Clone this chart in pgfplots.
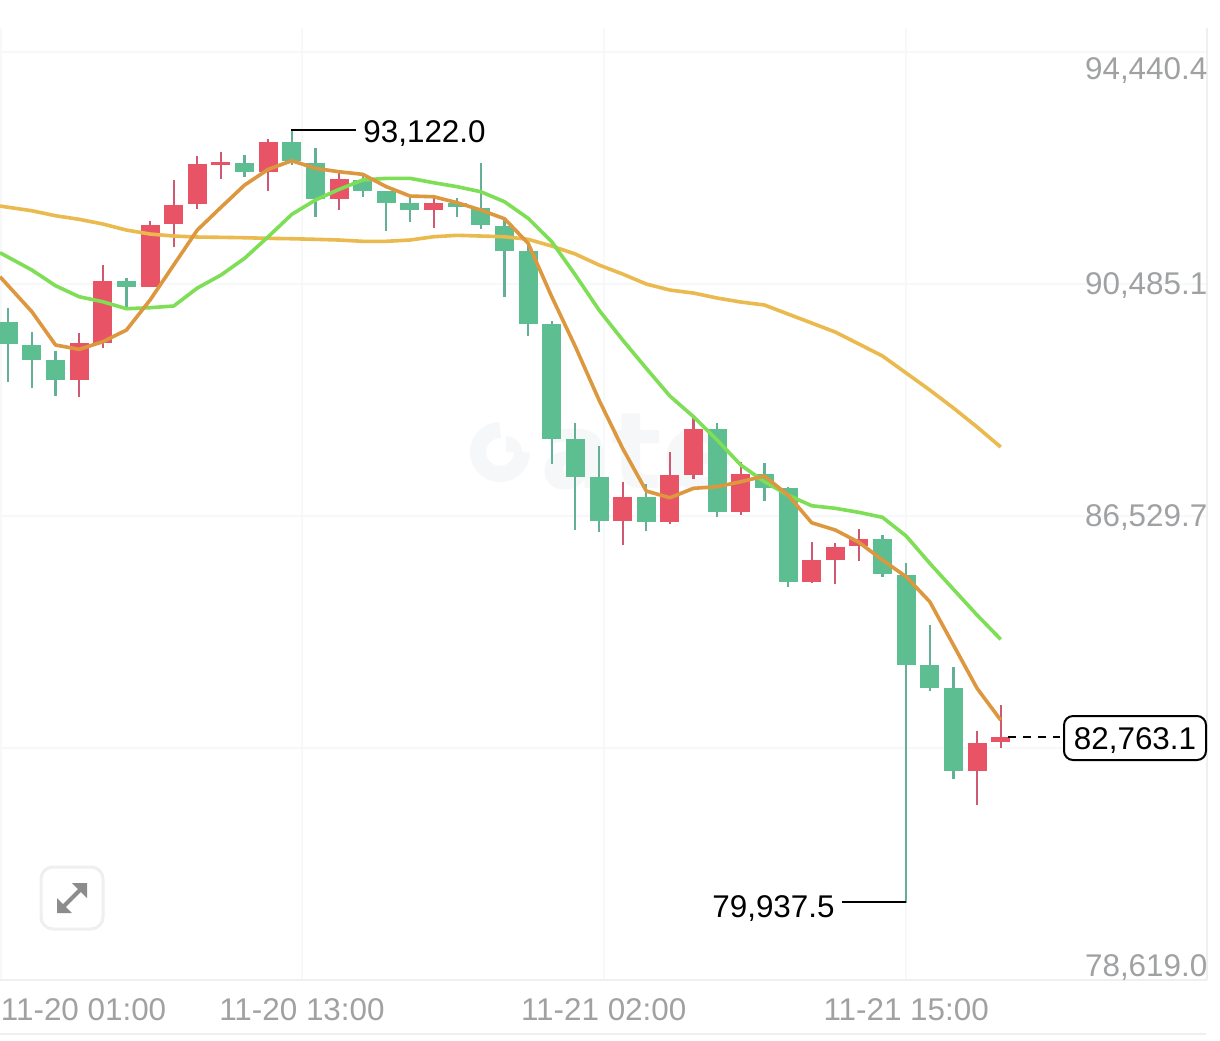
\documentclass[border=0pt]{standalone}
\usepackage{pgfplots}
\usepackage{pgfplotstable}
\usepackage{fontspec}
\setmainfont{Liberation Sans}
\newfontfamily\wmf{DejaVu Sans}
\pgfplotsset{compat=1.18}
\definecolor{cgreen}{RGB}{92,190,145}
\definecolor{cgreenw}{RGB}{100,176,150}
\definecolor{cred}{RGB}{232,84,102}
\definecolor{credw}{RGB}{208,88,112}
\definecolor{maorange}{RGB}{221,151,62}
\definecolor{mayellow}{RGB}{234,186,78}
\definecolor{magreen}{RGB}{126,222,86}
\definecolor{gridc}{RGB}{247,248,249}
\definecolor{axisc}{RGB}{238,239,240}
\definecolor{labc}{RGB}{160,161,163}
\definecolor{wm}{RGB}{246,247,248}
% x top bot high low
\pgfplotstableread{
x top bot high low
0 89842 89457 90081 88819
1 89445 89189 89671 88717
2 89184 88843 89342 88580
5 90541 90439 90592 90075
10 92542 92389 92684 92304
12 92906 92587 93122 92513
13 92553 91929 92798 91632
15 92266 92075 92326 91973
16 92065 91871 92070 91393
17 91861 91746 91973 91542
19 91866 91792 91946 91632
20 91785 91485 92542 91427
21 91473 91052 91610 90258
22 91052 89803 91184 89603
23 89803 87837 89849 87416
24 87837 87189 88120 86291
25 87189 86444 87723 86262
27 86858 86427 87075 86279
30 88013 86597 88110 86517
32 87245 87012 87428 86790
33 87002 85404 87029 85324
37 86142 85535 86205 85494
38 85523 83989 85733 79937.5
39 83984 83602 84666 83551
40 83592 82182 83950 82045
}\downcandles
\pgfplotstableread{
x top bot high low
3 89474 88843 89644 88563
4 90536 89474 90809 89388
6 91491 90439 91559 90439
7 91832 91503 92253 91121
8 92536 91843 92667 91763
9 92560 92522 92740 92270
11 92911 92399 92952 92075
14 92270 91929 92399 91746
18 91871 91746 91951 91439
26 86858 86444 87114 86035
28 87228 86427 87615 86393
29 88013 87233 88222 87155
31 87240 86592 87455 86551
34 85774 85404 86091 85382
35 86006 85779 86074 85365
36 86142 86018 86303 85767
41 82654 82182 82869 81607
42 82763 82671 83307 82579
}\upcandles
\pgfplotstableread{
x o g y
-0.35 90609 91018 91814
1 90012 90723 91734
2 89445 90456 91649
3 89371 90268 91588
4 89501 90183 91508
5 89700 90064 91405
6 90212 90081 91337
7 90809 90110 91303
8 91405 90416 91286
9 91792 90638 91281
10 92172 90923 91274
11 92440 91291 91264
12 92587 91673 91257
13 92457 91917 91247
14 92399 92099 91235
15 92355 92258 91213
16 92144 92287 91213
17 91985 92287 91235
18 91973 92212 91291
19 91871 92144 91315
20 91746 92058 91303
21 91598 91888 91291
22 91179 91605 91247
23 90268 91206 91132
24 89416 90638 90996
25 88507 90041 90809
26 87683 89530 90655
27 86956 89047 90485
28 86841 88575 90382
29 87002 88222 90331
30 87029 87825 90246
31 87114 87399 90178
32 87211 87114 90127
33 86887 86887 89973
34 86415 86705 89820
35 86291 86661 89666
36 86081 86592 89462
37 85779 86507 89257
38 85494 86188 88967
39 85068 85723 88677
40 84330 85280 88371
41 83592 84841 88047
42 83051 84427 87706
}\mas
\newcommand{\lab}{\fontsize{15.7}{18}\selectfont}
\begin{document}
\begin{tikzpicture}[x=0.5pt,y=-0.5pt]
\useasboundingbox (0,0) rectangle (1220,1040);
\fill[white] (0,0) rectangle (1220,1040);
% watermark
\draw[wm,line width=8pt] (500,430) arc (-90:-360:22);
\fill[wm] (506,452) -- (506,436) arc (-90:0:16) -- cycle;
\node[wm,anchor=west,inner sep=0] at (540,452) {\fontsize{53}{53}\selectfont\wmf\bfseries ate};
\begin{axis}[
  at={(0pt,-490pt)}, anchor=south west,
  scale only axis, width=603.25pt, height=476pt,
  xmin=-0.351, xmax=50.71, ymin=78619, ymax=94849.6,
  axis x line*=bottom, axis y line*=right,
  axis line style={draw=axisc,line width=1pt},
  major tick length=0pt,
  grid=major, grid style={draw=gridc,line width=0.8pt},
  xtick={-0.31,12.43,25.2,38.0},
  xticklabels={\makebox[0pt][l]{11-20 01:00},11-20 13:00,11-21 02:00,11-21 15:00},
  ytick={78619,82574.3,86529.7,90485.1,94440.4},
  yticklabels={\raisebox{1.9pt}[0pt][0pt]{78,619.0},,\raisebox{-5.1pt}[0pt][0pt]{86,529.7},\raisebox{-5.1pt}[0pt][0pt]{90,485.1},\raisebox{-13.6pt}[0pt][0pt]{94,440.4}},
  xticklabel style={text=labc,font=\lab,anchor=north,inner sep=0pt,yshift=-9pt},
  yticklabel style={text=labc,font=\lab,anchor=east,inner sep=0pt,xshift=0.6pt},
  every axis plot/.append style={forget plot},
  error bars/error mark=none,
]
% wicks
\addplot[draw=none,mark=none,error bars/.cd,y dir=minus,y explicit,error bar style={line width=1.1pt,cgreenw}] table[x=x,y=high,y error expr=\thisrow{high}-\thisrow{low}] {\downcandles};
\addplot[draw=none,mark=none,error bars/.cd,y dir=minus,y explicit,error bar style={line width=1.1pt,credw}] table[x=x,y=high,y error expr=\thisrow{high}-\thisrow{low}] {\upcandles};
% bodies
\addplot[draw=none,mark=none,error bars/.cd,y dir=minus,y explicit,error bar style={line width=9.5pt,cgreen}] table[x=x,y=top,y error expr=\thisrow{top}-\thisrow{bot}] {\downcandles};
\addplot[draw=none,mark=none,error bars/.cd,y dir=minus,y explicit,error bar style={line width=9.5pt,cred}] table[x=x,y=top,y error expr=\thisrow{top}-\thisrow{bot}] {\upcandles};
% moving averages
\addplot[mayellow,line width=1.8pt,line join=round,mark=none] table[x=x,y=y] {\mas};
\addplot[magreen,line width=1.8pt,line join=round,mark=none] table[x=x,y=g] {\mas};
\addplot[maorange,line width=1.8pt,line join=round,mark=none] table[x=x,y=o] {\mas};
\end{axis}
% annotations
\draw[black,line width=1pt] (291,130) -- (356,130);
\node[anchor=west,inner sep=0,font=\lab] at (363,134) {93,122.0};
\draw[black,line width=1pt] (842,902) -- (906,902);
\node[anchor=east,inner sep=0,font=\lab] at (835,909) {79,937.5};
\draw[black,line width=1pt,dash pattern=on 4pt off 3.5pt] (1008,737) -- (1060,737);
\draw[black,line width=1pt,fill=white,rounded corners=4.5pt] (1064,716) rectangle (1206,760);
\node[inner sep=0,font=\lab] at (1135,741) {82,763.1};
% expand button
\draw[axisc,line width=1.5pt,fill=white,rounded corners=6pt] (41,867) rectangle (103,929);
\fill[gray!90] (87,883) -- (72,883) -- (87,898) -- cycle;
\fill[gray!90] (57,913) -- (57,898) -- (72,913) -- cycle;
\draw[gray!90,line width=2pt] (80,890) -- (72,898);
\draw[gray!90,line width=2pt] (64,906) -- (72,898);
% lower rule
\draw[axisc,line width=0.8pt] (0,1034) -- (1206,1034);
\end{tikzpicture}
\end{document}
